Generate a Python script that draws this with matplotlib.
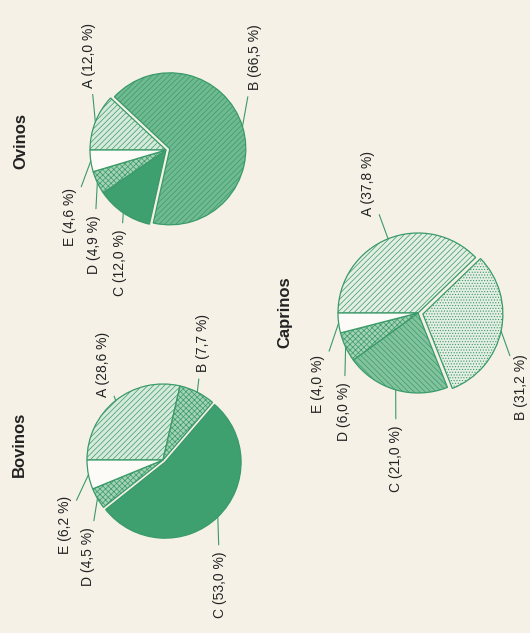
import numpy as np
import matplotlib.pyplot as plt

plt.rcParams['font.family'] = ['Liberation Sans', 'DejaVu Sans']
plt.rcParams['hatch.linewidth'] = 0.5

# Data (shares in %, slices A..E)
slices = ['A', 'B', 'C', 'D', 'E']
bovinos = [28.6, 7.7, 53.0, 4.5, 6.2]
ovinos = [12.0, 66.5, 12.0, 4.9, 4.6]
caprinos = [37.8, 31.2, 21.0, 6.0, 4.0]

W, H = 530, 633
GREEN = '#3a9a68'
BG = '#f6f1e7'

fig = plt.figure(figsize=(W / 100, H / 100), dpi=100, facecolor=BG)
ax = fig.add_axes([0, 0, 1, 1])
ax.set_facecolor(BG)


def draw_pie(values, title, center, r, title_pos, label_pos, styles, explode):
    cx, cy = center[0], H - center[1]
    wedges, _ = ax.pie(values, center=(cx, cy), radius=r, startangle=180,
                       counterclock=False, explode=explode,
                       wedgeprops=dict(edgecolor=GREEN, linewidth=0.9))
    for w, (fc, hatch) in zip(wedges, styles):
        w.set_facecolor(fc)
        w.set_hatch(hatch)
    for w, name, val, (lx, ly) in zip(wedges, slices, values, label_pos):
        theta = np.deg2rad((w.theta1 + w.theta2) / 2)
        ox, oy = w.center
        px, py = ox + r * np.cos(theta), oy + r * np.sin(theta)
        txt = f"{name} ({val:.1f} %)".replace('.', ',')
        ax.annotate(txt, xy=(px, py), xytext=(lx, H - ly), textcoords='data',
                    rotation=90, ha='center', va='center', fontsize=10,
                    color='#222222',
                    arrowprops=dict(arrowstyle='-', color=GREEN, lw=0.8,
                                    shrinkA=3, shrinkB=0))
    ax.text(title_pos[0], H - title_pos[1], title, rotation=90, ha='center',
            va='center', fontsize=12, fontweight='bold', color='#222222')


LIGHT = ('#d6eadc', '//////')
STIP = ('#a3d2b5', 'xxxxxx')
DARK = ('#3fa06f', '')
MID = ('#6fba90', '//////')
WHITE = ('#fcfbf7', '')

# explode values are in pixels here (pie offsets in data units)
draw_pie(bovinos, 'Bovinos', (163, 460), 76, (19, 444),
         [(103, 364), (203, 343), (220, 585), (88, 557), (65, 525)],
         [LIGHT, STIP, DARK, STIP, WHITE], [0, 0, 3, 0, 0])

draw_pie(ovinos, 'Ovinos', (166, 150), 76, (21, 141),
         [(89, 55), (255, 57), (120, 263), (94, 245), (70, 217)],
         [LIGHT, MID, DARK, STIP, WHITE], [0, 4, 0, 0, 0])

draw_pie(caprinos, 'Caprinos', (418, 313), 80, (285, 312),
         [(368, 184), (521, 387), (396, 459), (344, 412), (318, 384)],
         [('#e4eee3', '//////'), ('#e4eee3', '......'),
          ('#82c39e', '\\\\\\\\\\\\'), STIP, WHITE], [0, 5, 0, 0, 0])

ax.set_xlim(0, W)
ax.set_ylim(0, H)
ax.set_aspect('equal')
ax.axis('off')

fig.savefig('out.png', dpi=100, facecolor=BG)
